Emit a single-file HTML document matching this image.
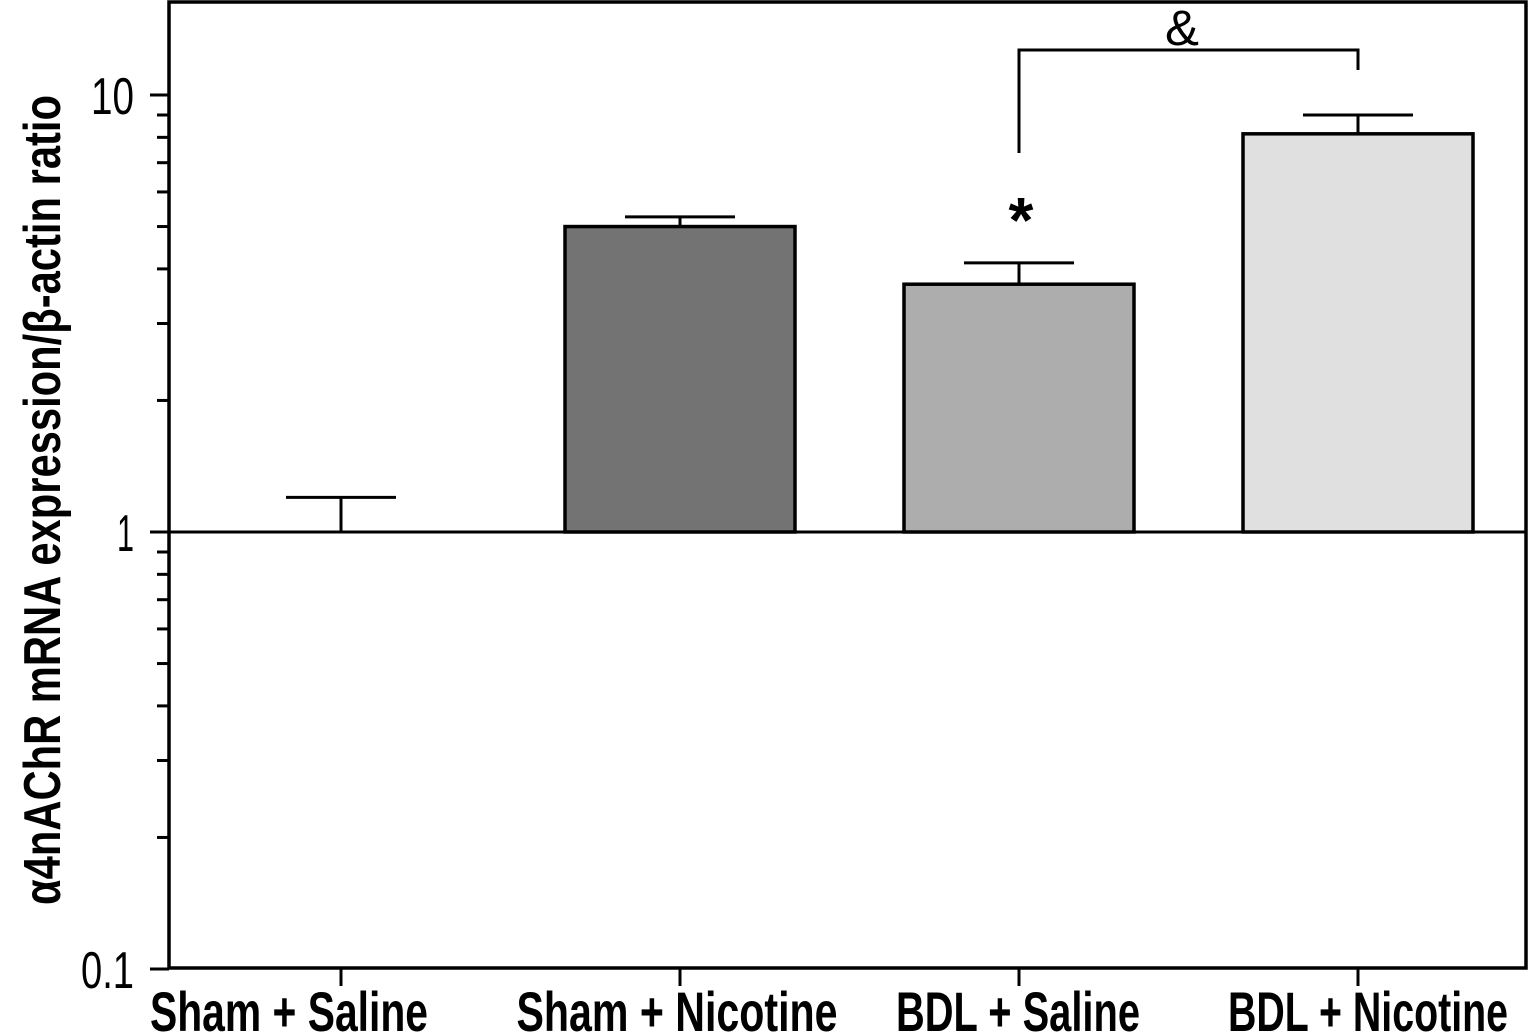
<!DOCTYPE html>
<html><head><meta charset="utf-8"><style>
html,body{margin:0;padding:0;background:#fff;}
svg{display:block;}
text{font-family:"Liberation Sans",sans-serif;fill:#000;}
</style></head><body>
<svg id="chart" width="1530" height="1035" viewBox="0 0 1530 1035" xmlns="http://www.w3.org/2000/svg"></svg>
<script>
const categories = ["Sham + Saline","Sham + Nicotine","BDL + Saline","BDL + Nicotine"];
const values = [1.0, 5.0, 3.69, 8.15];
const errors = [1.20, 5.26, 4.13, 9.0];
const fills = ["#ffffff","#737373","#adadad","#e0e0e0"];
const yTicks = [0.1, 1, 10];
const yTickLabels = ["0.1","1","10"];

const NS="http://www.w3.org/2000/svg";
const svg=document.getElementById('chart');
const L=169,R=1526,T=2,B=968;
const y1=532, dec=437;
function y(v){return y1-Math.log10(v)*dec;}
const xCenters=[341,680,1019,1358];
function x(i){return xCenters[i];}
const labelShift=[-52,-3,-1,10];
const labelLen=[278,321,244,280];
const barW=230, capW=110;
function el(tag,attrs,parent){const e=document.createElementNS(NS,tag);for(const k in attrs)e.setAttribute(k,attrs[k]);(parent||svg).appendChild(e);return e;}

categories.forEach((c,i)=>{
  const cx=x(i);
  if(values[i]>1){
    const b=el('rect',{x:cx-barW/2,y:y(values[i]),width:barW,height:y(1)-y(values[i]),fill:fills[i],stroke:'#000','stroke-width':3.5});
    
    
  }
  const g=el('g',{stroke:'#000','stroke-width':3});
  
  
  el('line',{x1:cx,x2:cx,y1:y(values[i]),y2:y(errors[i])},g);
  el('line',{x1:cx-capW/2,x2:cx+capW/2,y1:y(errors[i]),y2:y(errors[i])},g);
  const xl=el('text',{x:cx+labelShift[i],y:1031,'text-anchor':'middle','font-size':56,'font-weight':'bold',textLength:labelLen[i],lengthAdjust:'spacingAndGlyphs'});
  xl.textContent=c;
  
  
  const t=el('line',{x1:cx,x2:cx,y1:B,y2:B+18,stroke:'#000','stroke-width':3});
  
  
});

const bl=el('line',{x1:L,x2:R,y1:y(1),y2:y(1),stroke:'#000','stroke-width':3});



const fr=el('rect',{x:L,y:T,width:R-L,height:B-T,fill:'none',stroke:'#000','stroke-width':3.5});



const tw={"0.1":53,"1":17,"10":43};
yTicks.forEach((v,i)=>{
  const t=el('line',{x1:150,x2:L,y1:y(v),y2:y(v),stroke:'#000','stroke-width':3});
  
  
  const lb=el('text',{x:134,y:y(v)+19,'text-anchor':'end','font-size':52,textLength:tw[yTickLabels[i]],lengthAdjust:'spacingAndGlyphs'});
  lb.textContent=yTickLabels[i];
  
  
  if(i<yTicks.length-1){
    for(let m=2;m<=9;m++){
      const mt=el('line',{x1:157,x2:L,y1:y(v*m),y2:y(v*m),stroke:'#000','stroke-width':3});
      
      
    }
  }
});

const yt=el('text',{x:0,y:0,transform:'translate(60,500) rotate(-90)','text-anchor':'middle','font-size':52,'font-weight':'bold',textLength:810,lengthAdjust:'spacingAndGlyphs'});
yt.textContent='α4nAChR mRNA expression/β-actin ratio';



const br=el('polyline',{points:`${x(2)},153 ${x(2)},50 ${x(3)},50 ${x(3)},70`,fill:'none',stroke:'#000','stroke-width':3});


const amp=el('text',{x:1182,y:45,'text-anchor':'middle','font-size':50,textLength:34,lengthAdjust:'spacingAndGlyphs'});
amp.textContent='&';


const ast=el('text',{x:1021,y:242,'text-anchor':'middle','font-size':64,'font-weight':'bold'});
ast.textContent='*';


</script>
</body></html>
